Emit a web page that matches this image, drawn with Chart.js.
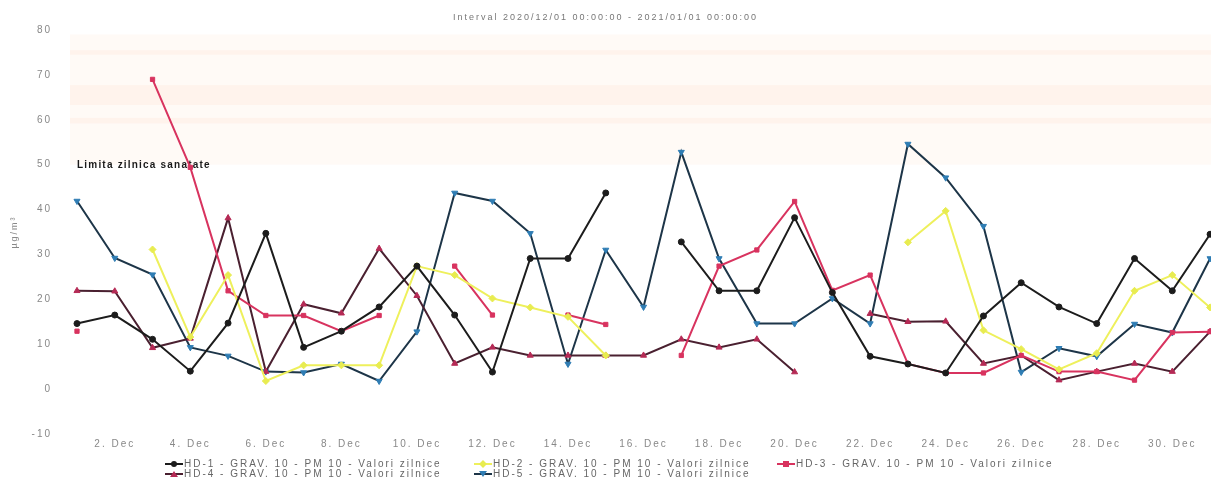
<!DOCTYPE html>
<html><head><meta charset="utf-8">
<script src="https://cdn.jsdelivr.net/npm/chart.js@4"></script>
<style>
html,body{margin:0;padding:0;background:#fff;overflow:hidden}
#wrap{position:relative;width:1211px;height:477px}
#legend{position:absolute;left:0;top:0;width:1211px;height:477px;pointer-events:none;font:10px "Liberation Sans",Arial,sans-serif;color:#666;letter-spacing:2px}
.item{position:absolute;white-space:nowrap;height:10px;line-height:10px}
.item svg{position:absolute;left:0;top:0}
.item span{position:absolute;left:19px;top:0}
</style></head>
<body><div id="wrap"><canvas id="c"></canvas><div id="legend"></div></div>
<script>
// ---- data ----
const days = [1,2,3,4,5,6,7,8,9,10,11,12,13,14,15,16,17,18,19,20,21,22,23,24,25,26,27,28,29,30,31];
const hd1 = [14.6,16.5,11.1,4.0,14.7,34.7,9.3,12.9,18.3,27.4,16.5,3.8,29.1,29.1,43.7,null,32.8,21.9,21.9,38.2,21.5,7.3,5.6,3.6,16.3,23.7,18.3,14.6,29.1,21.9,34.5];
const hd2 = [null,null,31.1,11.6,25.4,1.8,5.3,5.3,5.3,27.4,25.4,20.2,18.2,16.1,7.5,null,null,null,null,null,null,null,32.7,39.7,13.1,8.9,4.4,8.0,21.9,25.4,18.2];
const hd3 = [12.9,null,69.0,49.4,21.9,16.4,16.4,12.9,16.4,null,27.4,16.5,null,16.5,14.4,null,7.5,27.4,31.0,41.8,22.0,25.4,5.6,3.6,3.6,7.5,3.9,3.9,2.0,12.6,12.8];
const hd4 = [21.9,21.8,9.2,11.3,38.1,3.9,18.9,16.9,31.3,20.8,5.7,9.3,7.5,7.5,7.5,7.5,11.1,9.3,11.1,3.8,null,16.8,15.0,15.1,5.7,7.5,2.0,3.9,5.7,3.9,12.8];
const hd5 = [41.9,29.2,25.5,9.3,7.4,3.9,3.7,5.6,1.8,12.8,43.7,41.9,34.7,5.6,31.0,18.3,52.8,29.1,14.6,14.6,20.2,14.6,54.6,47.1,36.3,3.8,9.1,7.3,14.5,12.6,29.1];
const seriesNames = [
  'HD-1 - GRAV. 10 - PM 10 - Valori zilnice',
  'HD-2 - GRAV. 10 - PM 10 - Valori zilnice',
  'HD-3 - GRAV. 10 - PM 10 - Valori zilnice',
  'HD-4 - GRAV. 10 - PM 10 - Valori zilnice',
  'HD-5 - GRAV. 10 - PM 10 - Valori zilnice'
];
const yTicks = [-10,0,10,20,30,40,50,60,70,80];
const xTickDays = [2,4,6,8,10,12,14,16,18,20,22,24,26,28,30];
const xTickLabels = ['2. Dec','4. Dec','6. Dec','8. Dec','10. Dec','12. Dec','14. Dec','16. Dec','18. Dec','20. Dec','22. Dec','24. Dec','26. Dec','28. Dec','30. Dec'];
const limitValue = 50;
const limitLabel = 'Limita zilnica sanatate';
const titleText = 'Interval 2020/12/01 00:00:00 - 2021/01/01 00:00:00';
const yTitle = 'µg/m³';

// ---- styles ----
const seriesData = [hd1, hd2, hd3, hd4, hd5];
const styles = [
  {line:'#1c1c1c', point:'#1c1c1c', shape:'circle',   rot:0,   r:3},
  {line:'#eef05c', point:'#e8ec50', shape:'rectRot',  rot:0,   r:3.5},
  {line:'#d8335f', point:'#d8335f', shape:'rect',     rot:0,   r:3},
  {line:'#4a2030', point:'#b52a55', shape:'triangle', rot:0,   r:3.5},
  {line:'#1d3548', point:'#2f7db4', shape:'triangle', rot:180, r:3.5}
];
const FONT = '"Liberation Sans", Arial, sans-serif';
Chart.defaults.font.family = FONT;

const bandPlugin = {
  id: 'band',
  beforeDraw(chart) { chart.ctx.letterSpacing = '2px'; },
  beforeDatasetsDraw(chart) {
    const {ctx, chartArea: a, scales: {y}} = chart;
    ctx.save();
    ctx.fillStyle = '#fffaf6';
    ctx.fillRect(a.left, y.getPixelForValue(79), a.right - a.left, y.getPixelForValue(limitValue) - y.getPixelForValue(79));
    ctx.fillStyle = 'rgba(255,228,218,0.35)';
    [[63.3,67.7],[59.2,60.4],[74.5,75.5]].forEach(([lo,hi]) => {
      ctx.fillRect(a.left, y.getPixelForValue(hi), a.right - a.left, y.getPixelForValue(lo) - y.getPixelForValue(hi));
    });
    ctx.letterSpacing = '1.2px';
    ctx.fillStyle = '#1a1a1a';
    ctx.font = 'bold 10px ' + FONT;
    ctx.textBaseline = 'middle';
    ctx.textAlign = 'left';
    ctx.fillText(limitLabel, a.left + 7, y.getPixelForValue(limitValue) + 1);
    ctx.restore();
  }
};

new Chart(document.getElementById('c'), {
  type: 'line',
  data: {
    labels: days,
    datasets: seriesData.map((d, i) => ({
      label: seriesNames[i],
      data: d,
      borderColor: styles[i].line,
      backgroundColor: styles[i].point,
      pointBackgroundColor: styles[i].point,
      pointBorderColor: styles[i].point,
      pointBorderWidth: 1,
      pointStyle: styles[i].shape,
      pointRotation: styles[i].rot,
      pointRadius: styles[i].r,
      borderWidth: 2,
      tension: 0,
      spanGaps: false,
      clip: false
    }))
  },
  options: {
    responsive: true,
    maintainAspectRatio: false,
    animation: false,
    events: [],
    layout: { autoPadding: false, padding: { left: 0, right: 0, top: 0, bottom: 23 } },
    plugins: {
      legend: { display: false },
      tooltip: { enabled: false },
      title: {
        display: true, text: titleText, color: '#777',
        font: { size: 9, weight: 'normal', lineHeight: 1.2 },
        padding: { top: 12, bottom: 7.2 }
      }
    },
    scales: {
      x: {
        type: 'linear', min: 0.8147, max: 31.025,
        grid: { display: false, drawTicks: false }, border: { display: false },
        afterBuildTicks: s => { s.ticks = xTickDays.map(v => ({ value: v })); },
        afterFit: s => { s.height = 20; s.paddingLeft = 0; s.paddingRight = 0; },
        ticks: {
          color: '#888', font: { size: 10 }, padding: 4, maxRotation: 0, autoSkip: false,
          callback: v => xTickLabels[xTickDays.indexOf(v)]
        }
      },
      y: {
        type: 'linear', min: -10, max: 80,
        grid: { display: false, drawTicks: false }, border: { display: false },
        afterBuildTicks: s => { s.ticks = yTicks.map(v => ({ value: v })); },
        afterFit: s => { s.width = 70; },
        ticks: { color: '#888', font: { size: 10 }, padding: 18 },
        title: { display: true, text: yTitle, color: '#888', font: { size: 9 }, padding: { top: 9.5, bottom: 0 } }
      }
    }
  },
  plugins: [bandPlugin]
});

// ---- legend (HTML, built from the series) ----
const legend = document.getElementById('legend');
const cols = [165, 474, 777];
const rows = [459, 469];
function marker(st) {
  const c = st.point;
  if (st.shape === 'circle') return `<circle cx="9" cy="5" r="3" fill="${c}"/>`;
  if (st.shape === 'rect') return `<rect x="6" y="2" width="6" height="6" fill="${c}"/>`;
  if (st.shape === 'rectRot') return `<polygon points="9,1 13,5 9,9 5,5" fill="${c}"/>`;
  if (st.rot === 180) return `<polygon points="5,2 13,2 9,8" fill="${c}"/>`;
  return `<polygon points="9,2 13,8 5,8" fill="${c}"/>`;
}
seriesNames.forEach((name, i) => {
  const st = styles[i];
  const el = document.createElement('div');
  el.className = 'item';
  el.style.left = cols[i % 3] + 'px';
  el.style.top = rows[Math.floor(i / 3)] + 'px';
  el.innerHTML = `<svg width="18" height="10"><line x1="0" y1="5" x2="18" y2="5" stroke="${st.line}" stroke-width="2"/>${marker(st)}</svg><span>${name}</span>`;
  legend.appendChild(el);
});
</script>
</body></html>
